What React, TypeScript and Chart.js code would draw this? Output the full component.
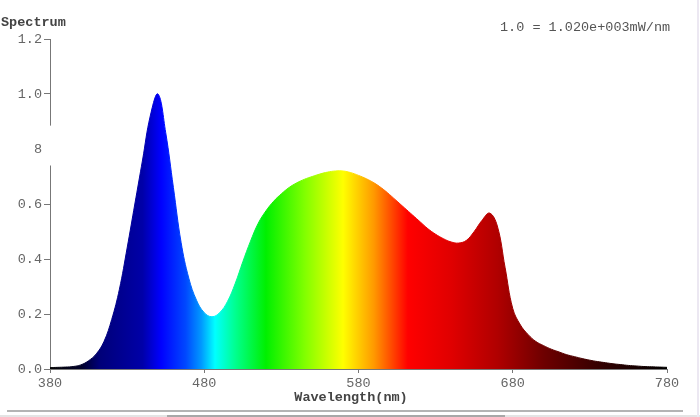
import React, { useEffect, useRef } from "react";
import { Chart, registerables } from "chart.js";

Chart.register(...registerables);

// Data (5 nm steps)
const wavelengths: number[] = [
  380, 385, 390, 395, 400, 405, 410, 415, 420, 425, 430, 435, 440, 445, 450, 455, 460, 465, 470, 475,
  480, 485, 490, 495, 500, 505, 510, 515, 520, 525, 530, 535, 540, 545, 550, 555, 560, 565, 570, 575,
  580, 585, 590, 595, 600, 605, 610, 615, 620, 625, 630, 635, 640, 645, 650, 655, 660, 665, 670, 675,
  680, 685, 690, 695, 700, 705, 710, 715, 720, 725, 730, 735, 740, 745, 750, 755, 760, 765, 770, 775, 780,
];
const intensity: number[] = [
  0.005, 0.006, 0.007, 0.009, 0.015, 0.03, 0.055, 0.1, 0.18, 0.29, 0.44, 0.6, 0.76, 0.92, 1.0, 0.86, 0.66, 0.46, 0.33, 0.25,
  0.205, 0.19, 0.205, 0.245, 0.31, 0.39, 0.465, 0.53, 0.575, 0.61, 0.637, 0.66, 0.677, 0.69, 0.7, 0.709, 0.716, 0.72, 0.72, 0.714,
  0.704, 0.692, 0.677, 0.658, 0.635, 0.61, 0.585, 0.56, 0.535, 0.51, 0.49, 0.474, 0.462, 0.458, 0.468, 0.5, 0.54, 0.567, 0.52, 0.37,
  0.22, 0.16, 0.125, 0.1, 0.085, 0.072, 0.062, 0.052, 0.045, 0.038, 0.032, 0.027, 0.023, 0.019, 0.016, 0.013, 0.011, 0.009, 0.008, 0.007, 0.006,
];
const xTickValues: number[] = [380, 480, 580, 680, 780];
const yTickValues: number[] = [0, 0.2, 0.4, 0.6, 0.8, 1.0, 1.2];
const yAxisTitle = "Spectrum";
const xAxisTitle = "Wavelength(nm)";
const unitNote = "1.0 = 1.020e+003mW/nm";

// wavelength -> display colour for the fill gradient
const gradientNm: number[] = [380, 400, 412, 440, 452, 468, 478, 487, 500, 520, 545, 570, 590, 612, 640, 670, 700, 740, 780];
const gradientColors: string[] = [
  "#050505", "#000028", "#000078", "#0000a8", "#0000ff", "#0048ff", "#0098ff", "#00ffff", "#00ff90",
  "#00f000", "#80ff00", "#ffff00", "#ff9900", "#ff0000", "#e00000", "#b00000", "#6e0000", "#2e0000", "#000000",
];

const FONT = "'Liberation Mono', 'DejaVu Sans Mono', monospace";

function spectrumGradient(chart: any) {
  const area = chart.chartArea;
  if (!area) return "#888";
  const xs = chart.scales.x;
  const x0 = xs.getPixelForValue(gradientNm[0]);
  const x1 = xs.getPixelForValue(gradientNm[gradientNm.length - 1]);
  const g = chart.ctx.createLinearGradient(x0, 0, x1, 0);
  const span = gradientNm[gradientNm.length - 1] - gradientNm[0];
  gradientNm.forEach((nm, i) => g.addColorStop((nm - gradientNm[0]) / span, gradientColors[i]));
  return g;
}

const decorPlugin = {
  id: "decor",
  afterDraw(chart: any) {
    const { ctx, chartArea, scales } = chart;
    const ys = scales.y;
    ctx.save();
    // white patch over the axis near 0.8 (as in the reference)
    ctx.fillStyle = "#ffffff";
    const yTop = ys.getPixelForValue(0.885);
    const yBot = ys.getPixelForValue(0.74);
    ctx.fillRect(chartArea.left - 7, yTop, 10, yBot - yTop);
    // texts
    ctx.textBaseline = "middle";
    ctx.fillStyle = "#444";
    ctx.font = `bold 13.5px ${FONT}`;
    ctx.textAlign = "left";
    ctx.fillText(yAxisTitle, 1, 23);
    ctx.textAlign = "center";
    ctx.fillText(xAxisTitle, 351, 398);
    ctx.textAlign = "left";
    ctx.font = `13.5px ${FONT}`;
    ctx.fillStyle = "#555";
    ctx.fillText(unitNote, 500, 27);
    // frame lines
    ctx.fillStyle = "#b4b4b4";
    ctx.fillRect(7, 410, 676, 2);
    ctx.fillStyle = "#e4e4e4";
    ctx.fillRect(0, 415, 700, 2);
    ctx.fillStyle = "#a8a8a8";
    ctx.fillRect(167, 415, 338, 2);
    ctx.fillStyle = "#ece8f2";
    ctx.fillRect(697, 0, 2, 417);
    ctx.restore();
  },
};

export default function App() {
  const canvasRef = useRef<HTMLCanvasElement | null>(null);

  useEffect(() => {
    if (!canvasRef.current) return;
    const points = wavelengths.map((w, i) => ({ x: w, y: intensity[i] }));
    const chart = new Chart(canvasRef.current, {
      type: "line",
      data: {
        datasets: [
          {
            data: points,
            fill: "origin",
            backgroundColor: (c: any) => spectrumGradient(c.chart),
            borderColor: (c: any) => spectrumGradient(c.chart),
            borderWidth: 1,
            pointRadius: 0,
            tension: 0.4,
          },
        ],
      },
      options: {
        animation: false,
        responsive: true,
        maintainAspectRatio: false,
        layout: { padding: { left: 0, right: 33, top: 39, bottom: 7 } },
        plugins: { legend: { display: false }, tooltip: { enabled: false } },
        scales: {
          x: {
            type: "linear",
            min: 380,
            max: 780,
            afterBuildTicks: (s: any) => {
              s.ticks = xTickValues.map((v) => ({ value: v }));
            },
            afterFit: (s: any) => {
              s.height = 41;
            },
            ticks: {
              font: { family: FONT, size: 13.5 },
              color: "#666",
              padding: 2,
              maxRotation: 0,
              callback: (v: any) => String(v),
            },
            grid: { drawOnChartArea: false, drawTicks: true, tickLength: 4, color: "#777" },
            border: { display: true, color: "#777", width: 1 },
            title: { display: false },
          },
          y: {
            type: "linear",
            min: 0,
            max: 1.2,
            afterBuildTicks: (s: any) => {
              s.ticks = yTickValues.map((v) => ({ value: v }));
            },
            afterFit: (s: any) => {
              s.width = 50;
            },
            ticks: {
              font: { family: FONT, size: 13.5 },
              color: "#666",
              padding: 2,
              callback: (v: any) => (Math.abs(v - 0.8) < 1e-6 ? "8" : Number(v).toFixed(1)),
            },
            grid: { drawOnChartArea: false, drawTicks: true, tickLength: 6, color: "#777" },
            border: { display: true, color: "#777", width: 1 },
          },
        },
      },
      plugins: [decorPlugin],
    });
    return () => chart.destroy();
  }, []);

  return (
    <div style={{ position: "fixed", left: 0, top: 0, width: 700, height: 417, background: "#fff" }}>
      <canvas ref={canvasRef} />
    </div>
  );
}
